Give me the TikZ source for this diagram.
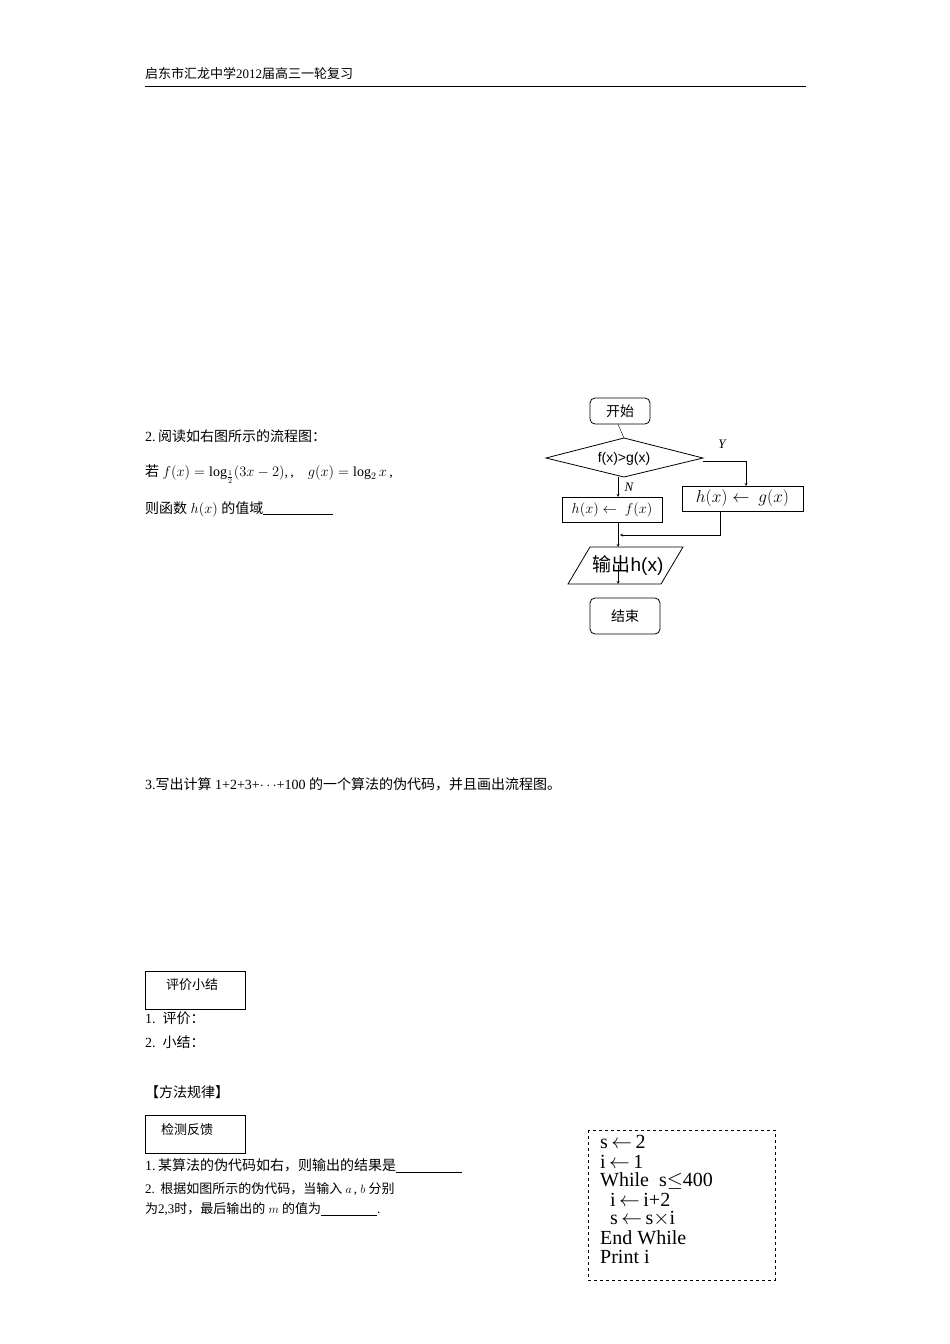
\documentclass[tikz,border=0pt]{standalone}
\usepackage{fontspec}
\setmainfont{Liberation Serif}
\newfontfamily\cjk{Noto Sans CJK SC}
\newfontfamily\lsans{Liberation Sans}
\begin{document}
\begin{tikzpicture}[x=1pt,y=-1pt,
  txt/.style={anchor=west,inner sep=0pt,font=\fontsize{14}{16}\selectfont},
  box/.style={draw,thick,inner sep=0pt},
  arr/.style={->,>=stealth}]
\useasboundingbox (0,0) rectangle (950,1344);
\fill[white] (0,0) rectangle (950,1344);
\node[txt,font=\fontsize{13}{15}\selectfont] (hd) at (145,74) {\cjk 启东市汇龙中学\rmfamily 2012\cjk 届高三一轮复习};
\draw (145,86) -- (806,86);
% flowchart
\node[box,rounded corners=5pt,minimum width=60pt,minimum height=26pt] (st) at (620,411) {\cjk\fontsize{14}{16}\selectfont 开始};
\draw[thick] (546,458) -- (624,438) -- (703,458) -- (624,477) -- cycle;
\coordinate (dt) at (624,438); \coordinate (db) at (618,477); \coordinate (dr) at (703,461);
\node[font=\lsans\fontsize{14}{16}\selectfont] (dl) at (624,459) {f(x)>g(x)};
\draw (st.south) ++(-2,0) -- (dt);
\node[box,minimum width=100pt,minimum height=25pt] (nb) at (612,509.5) {\fontsize{15}{17}\selectfont $h(x)\leftarrow\ f(x)$};
\node[box,minimum width=121pt,minimum height=25pt] (yb) at (742.5,498.5) {\fontsize{16}{18}\selectfont $h(x)\leftarrow\ g(x)$};
\draw[arr] (db) -- (618,497);
\node[font=\itshape\fontsize{13}{15}\selectfont] (nl) at (629,487) {N};
\node[font=\itshape\fontsize{13}{15}\selectfont] (yl) at (722,444) {Y};
\draw[arr] (dr) -| (746,486);
\coordinate (jn) at (620,535);
\draw[arr] (720,511) |- (jn);
\draw[arr] (618,522) -- (618,547);
\draw[thick] (590,547) -- (683,547) -- (661,584) -- (568,584) -- cycle;
\node[font=\fontsize{19}{21}\selectfont] (ol) at (628,565) {\cjk 输出\lsans h(x)};
\draw[arr] (618,565) -- (618,584);
\node[box,rounded corners=5pt,minimum width=70pt,minimum height=36pt] (en) at (625,616) {\cjk\fontsize{14}{16}\selectfont 结束};
% texts
\node[txt] (t2) at (145,436) {2.\,{\cjk 阅读如右图所示的流程图：}};
\node[txt] (t2b) at (145,474) {{\cjk 若} $f(x)=\log_{\frac12}(3x-2)$,\,,\quad $g(x)=\log_2 x$\,,};
\node[txt] (t2c) at (145,509) {{\cjk 则函数} $h(x)$ {\cjk 的值域}\underline{\hspace{70pt}}};
\node[txt] (t3) at (145,784) {3.{\cjk 写出计算} 1+2+3+$\cdots$+100 {\cjk 的一个算法的伪代码，并且画出流程图。}};
\node[box,thin,minimum width=100pt,minimum height=38pt] (pj) at (195,990) {};
\node[txt,font=\cjk\fontsize{13}{15}\selectfont] (pjt) at (166,985) {评价小结};
\node[txt] (l1) at (145,1018) {1.\ \ {\cjk 评价：}};
\node[txt] (l2) at (145,1042) {2.\ \ {\cjk 小结：}};
\node[txt] (ff) at (145,1092) {\cjk 【方法规律】};
\node[box,thin,minimum width=100pt,minimum height=38pt] (jc) at (195,1134) {};
\node[txt,font=\cjk\fontsize{13}{15}\selectfont] (jct) at (161,1130) {检测反馈};
\node[txt] (q1) at (145,1166) {1.\,{\cjk 某算法的伪代码如右，则输出的结果是}\underline{\hspace{66pt}}};
\node[txt,font=\fontsize{13}{15}\selectfont] (q2) at (145,1189) {2.\ \,{\cjk 根据如图所示的伪代码，当输入} $a$\,, $b$ {\cjk 分别}};
\node[txt,font=\fontsize{13}{15}\selectfont] (q3) at (145,1209) {{\cjk 为}2,3{\cjk 时，最后输出的} $m$ {\cjk 的值为}\underline{\hspace{56pt}}.};
\draw[dashed] (588,1130) rectangle (775,1280);
\foreach \t/\y/\n in {{s$\,\leftarrow\,$2}/1142/c1,{i$\,\leftarrow\,$1}/1162/c2,{While\ \ s$\leq$400}/1181/c3,{\ \ i$\,\leftarrow\,$i+2}/1200/c4,{\ \ s$\,\leftarrow\,$s$\times$i}/1219/c5,{End While}/1238/c6,{Print i}/1257/c7}
  \node[txt,font=\fontsize{20}{21}\selectfont] (\n) at (600,\y) {\t};
\end{tikzpicture}
\end{document}
